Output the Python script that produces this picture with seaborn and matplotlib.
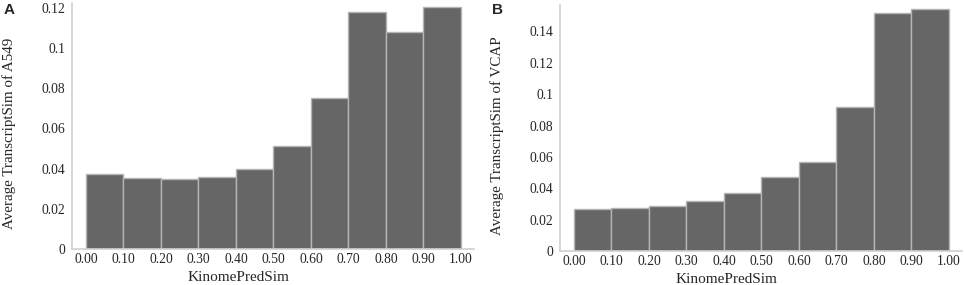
import numpy as np
import pandas as pd
import seaborn as sns
import matplotlib.pyplot as plt

sns.set_style('white')
plt.rcParams['font.family'] = ['Liberation Serif', 'DejaVu Serif']

# bin edges / centers of KinomePredSim
BIN_EDGES = [0.0, 0.1, 0.2, 0.3, 0.4, 0.5, 0.6, 0.7, 0.8, 0.9, 1.0]
BIN_CENTERS = [0.05, 0.15, 0.25, 0.35, 0.45, 0.55, 0.65, 0.75, 0.85, 0.95]
XTICK_LABELS = ['0.00', '0.10', '0.20', '0.30', '0.40', '0.50',
                '0.60', '0.70', '0.80', '0.90', '1.00']

# average TranscriptSim per bin
a549 = [0.0372, 0.0355, 0.0350, 0.0360, 0.0398, 0.0514, 0.0753, 0.1180, 0.1080, 0.1205]
vcap = [0.0268, 0.0276, 0.0285, 0.0317, 0.0367, 0.0473, 0.0569, 0.0919, 0.1516, 0.1541]

YTICKS_A = [0, 0.02, 0.04, 0.06, 0.08, 0.1, 0.12]
YTICKS_B = [0, 0.02, 0.04, 0.06, 0.08, 0.1, 0.12, 0.14]

panels = [
    ('A', 'A549', a549, YTICKS_A, 0.1224, [0.0747, 0.1263, 0.417, 0.863]),
    ('B', 'VCAP', vcap, YTICKS_B, 0.1567, [0.581, 0.119, 0.417, 0.863]),
]

fig = plt.figure(figsize=(9.64, 2.85), dpi=100)

for letter, cell, vals, yticks, ytop, pos in panels:
    ax = fig.add_axes(pos)
    df = pd.DataFrame({'bin_center': BIN_CENTERS, 'sim': vals})
    sns.histplot(data=df, x='bin_center', weights='sim', bins=BIN_EDGES,
                 color='#666666', alpha=1, edgecolor='#b4b4b4', linewidth=1,
                 ax=ax)

    ax.set_xlim(-0.037, 1.035)
    ax.set_ylim(0, ytop)
    ax.set_xticks(BIN_EDGES)
    ax.set_xticklabels(XTICK_LABELS, fontsize=9.8)
    ax.set_yticks(yticks)
    ax.set_yticklabels([f'{v:g}' for v in yticks], fontsize=9.8)
    ax.tick_params(axis='y', length=0, pad=5)
    ax.tick_params(axis='x', length=0, pad=3)

    ax.set_xlabel('KinomePredSim', fontsize=11)
    ax.set_ylabel(f'Average TranscriptSim of {cell}', fontsize=10.8)
    ax.xaxis.set_label_coords(0.413, -0.09)
    ax.yaxis.set_label_coords(-0.14, 0.47)

    sns.despine(ax=ax)
    for side in ['left', 'bottom']:
        ax.spines[side].set_color('#d0d0d0')
        ax.spines[side].set_linewidth(1.2)

    fig.text(pos[0] - 0.071, 0.99, letter, fontsize=11, fontweight='bold',
             family=['Liberation Sans', 'DejaVu Sans'], va='top', ha='left')

plt.savefig('out.png', dpi=100)
plt.close()
